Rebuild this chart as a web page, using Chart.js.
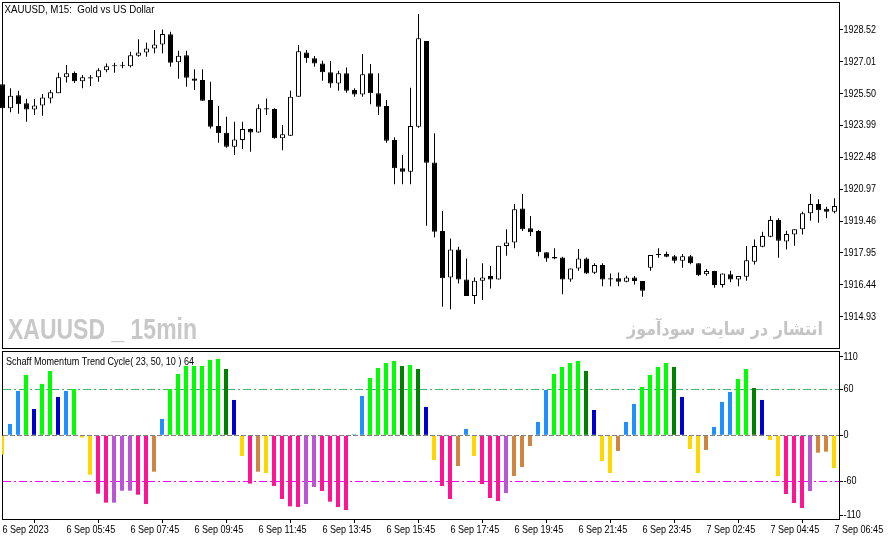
<!DOCTYPE html>
<html><head><meta charset="utf-8">
<script src="https://cdn.jsdelivr.net/npm/chart.js@4.4.0/dist/chart.umd.min.js"></script>
<style>
html,body{margin:0;padding:0;background:#fff;overflow:hidden;}
#wrap{position:relative;width:892px;height:541px;background:#fff;}
canvas{position:absolute;left:0;}
#c1{top:0;} #c2{top:349px;}
</style></head><body>
<div id="wrap"><canvas id="c1" width="892" height="349"></canvas><canvas id="c2" width="892" height="192"></canvas></div>
<script>
const FONT = '"Liberation Sans", Arial, sans-serif';

// ---- price panel (XAUUSD M15) ----
const openP  = [1925.94,1924.80,1925.42,1925.04,1924.75,1924.94,1925.27,1925.51,1926.27,1926.47,1926.08,1926.27,1926.27,1926.60,1926.84,1926.84,1926.80,1927.29,1927.45,1927.64,1927.83,1928.31,1926.98,1927.31,1926.22,1926.14,1925.19,1923.96,1923.64,1922.98,1923.30,1923.82,1923.66,1924.80,1924.77,1923.38,1923.50,1925.35,1927.45,1927.17,1926.93,1926.51,1925.98,1926.46,1925.67,1925.46,1926.46,1925.51,1924.91,1923.30,1921.96,1921.80,1923.93,1927.99,1922.24,1918.99,1916.79,1918.12,1916.70,1915.91,1916.63,1916.86,1916.70,1918.28,1918.45,1920.06,1919.12,1918.99,1917.98,1917.76,1917.74,1916.70,1917.22,1917.69,1917.01,1917.38,1916.75,1916.75,1916.59,1916.79,1916.62,1917.25,1917.85,1917.90,1917.80,1917.58,1917.80,1917.46,1916.94,1917.10,1916.43,1916.94,1916.70,1916.82,1917.53,1918.24,1918.72,1919.51,1918.49,1918.83,1919.07,1919.83,1920.27,1920.04,1919.90];
const highP  = [1926.05,1925.75,1925.63,1925.26,1925.24,1925.48,1925.67,1926.49,1926.85,1926.55,1926.38,1926.38,1926.70,1926.93,1926.96,1927.01,1927.48,1928.07,1927.91,1928.51,1928.54,1928.43,1927.53,1927.53,1926.65,1926.65,1926.06,1924.91,1924.40,1924.17,1924.17,1923.85,1925.00,1925.27,1924.80,1924.01,1925.63,1927.80,1927.56,1927.28,1927.05,1927.04,1926.58,1926.74,1925.75,1927.37,1926.90,1926.46,1925.19,1923.43,1922.59,1925.78,1929.27,1927.99,1923.62,1919.94,1918.64,1918.24,1917.69,1916.79,1917.46,1917.33,1918.29,1919.07,1920.27,1920.74,1919.70,1919.04,1917.98,1918.17,1917.77,1917.22,1918.14,1917.74,1917.46,1917.46,1916.98,1917.03,1916.87,1916.86,1916.62,1917.85,1918.17,1918.01,1917.85,1917.90,1917.85,1917.46,1917.19,1917.11,1916.98,1917.11,1916.86,1918.28,1918.59,1918.95,1919.70,1919.59,1919.00,1919.07,1919.90,1920.74,1920.50,1920.14,1920.54];
const lowP   = [1924.72,1924.61,1924.54,1924.17,1924.48,1924.45,1925.04,1925.51,1926.03,1926.00,1925.75,1925.86,1926.06,1926.51,1926.49,1926.70,1926.74,1927.24,1927.24,1927.41,1927.41,1926.77,1926.20,1925.82,1925.67,1925.16,1923.85,1923.17,1922.93,1922.59,1922.87,1922.74,1923.64,1924.48,1923.36,1922.82,1923.49,1925.35,1926.96,1926.77,1926.11,1925.78,1925.63,1925.54,1925.35,1925.35,1924.99,1924.48,1923.17,1921.20,1921.20,1921.20,1923.88,1919.24,1918.69,1915.40,1915.28,1916.51,1915.91,1915.53,1915.72,1916.27,1916.70,1917.82,1918.17,1918.99,1918.75,1917.80,1917.53,1917.65,1916.00,1916.59,1917.11,1916.95,1916.95,1916.38,1916.38,1916.38,1916.56,1916.46,1915.88,1917.11,1917.72,1917.75,1917.46,1917.25,1917.42,1916.86,1916.87,1916.30,1916.32,1916.56,1916.38,1916.63,1917.41,1918.22,1918.69,1917.72,1918.12,1918.29,1918.83,1919.48,1919.38,1919.59,1919.83];
const closeP = [1924.80,1925.40,1924.99,1924.75,1924.94,1925.32,1925.56,1926.27,1926.46,1926.08,1926.27,1926.22,1926.61,1926.79,1926.79,1926.79,1927.31,1927.45,1927.64,1927.83,1928.32,1926.96,1927.29,1926.25,1926.11,1925.16,1923.93,1923.62,1922.98,1923.33,1923.82,1923.66,1924.80,1924.75,1923.38,1923.57,1925.35,1927.51,1927.17,1926.93,1926.51,1925.98,1926.46,1925.63,1925.46,1926.42,1925.51,1924.88,1923.27,1921.96,1921.80,1923.96,1928.12,1922.22,1918.95,1916.75,1918.12,1916.70,1915.91,1916.63,1916.79,1916.70,1918.29,1918.45,1920.02,1919.07,1918.93,1917.98,1917.69,1917.69,1916.70,1917.22,1917.69,1916.98,1917.38,1916.70,1916.70,1916.59,1916.79,1916.62,1916.16,1917.85,1917.88,1917.77,1917.58,1917.80,1917.46,1916.90,1917.10,1916.43,1916.98,1916.70,1916.86,1917.61,1918.28,1918.75,1919.51,1918.53,1918.85,1919.07,1919.83,1920.27,1919.98,1919.90,1920.17];
const priceTicks = [1928.52,1927.01,1925.50,1923.99,1922.48,1920.97,1919.46,1917.95,1916.44,1914.93];

// ---- Schaff Momentum Trend Cycle panel ----
const histVals = [-25,14.8,57.8,78.7,34.3,67,83.9,50,57.8,60.4,-3,-51.3,-76.1,-87.8,-87.8,-72.2,-72.2,-77.4,-89.6,-47.4,21.3,60.4,80,90.4,90.4,90.4,98.3,99.6,86.5,46.1,-27,-63,-47.4,-49.1,-66.1,-83,-92.6,-93.5,-89.6,-67.4,-72.6,-86.5,-93.5,-97.4,1.3,51.3,74.8,87.8,94.3,97,90.4,91.7,86.5,37,-32.2,-66.1,-83,-40,8.3,-27,-63.5,-81.7,-85.7,-75.2,-53,-41.3,-13.9,17.4,59.1,80,89.1,94.3,97,83.9,33,-33.5,-49.1,-20.4,17.4,40.9,63,78.7,89.1,94.3,89.1,50,-17.8,-49.1,-19.1,10.9,43.5,56.5,73.5,86.5,61.7,46.1,-6.1,-53,-76.5,-88.3,-94.8,-72.6,-22.6,-21.3,-42.6];
const histColors = ['G','B','B','L','M','L','L','M','B','L','G','G','P','P','O','O','O','P','P','R','B','L','L','L','L','L','L','L','D','M','G','P','R','G','P','P','P','P','O','O','P','P','P','P','B','B','L','L','L','L','D','L','D','M','G','P','P','R','B','G','P','P','P','O','R','R','R','B','B','L','L','L','L','D','M','G','G','R','B','B','L','L','L','L','D','M','G','G','R','B','B','B','L','L','D','M','G','G','P','P','P','O','R','R','G'];
const PALETTE = {G:'#FFD700',B:'#1E90FF',L:'#00FF00',M:'#0000CD',P:'#FF1493',O:'#BA55D3',R:'#CD853F',D:'#008000'};
const histTickVals = [102.5, 60, 0, -60, -104];
const histTickLabels = ['110','60','0','-60','-110'];
const levels = [60, -60];
const levelColors = ['#3CB371', '#FF00FF'];

// ---- time axis ----
const xTickIdx = [0,8,16,24,32,40,48,56,64,72,80,88,96,104];
const xTickLabels = ['6 Sep 2023','6 Sep 05:45','6 Sep 07:45','6 Sep 09:45','6 Sep 11:45','6 Sep 13:45','6 Sep 15:45','6 Sep 17:45','6 Sep 19:45','6 Sep 21:45','6 Sep 23:45','7 Sep 02:45','7 Sep 04:45','7 Sep 06:45'];

const idx = openP.map((_, i) => i);
const X1 = [-0.0625, 104.5625];
const X2 = [0, 104.625];

function narrowText(ctx, text, x, y, maxW) {
  const w = ctx.measureText(text).width * 0.82;
  ctx.fillText(text, x, y, maxW || w);
}

const framePlugin = {
  id: 'frame',
  beforeDatasetsDraw(chart) {
    const {ctx, chartArea: a} = chart;
    ctx.save();
    ctx.strokeStyle = '#000'; ctx.lineWidth = 1;
    ctx.strokeRect(a.left + 0.5, a.top - 0.5, a.right - a.left, a.bottom - a.top + 1);
    ctx.restore();
  }
};

// draws axis labels at the library's tick positions (narrow MT5 style)
const tickLabelPlugin = {
  id: 'tickLabels',
  afterDraw(chart, args, opts) {
    const ctx = chart.ctx;
    ctx.save();
    ctx.font = '11px ' + FONT;
    ctx.fillStyle = '#000';
    const y = chart.scales.y;
    ctx.textAlign = 'left'; ctx.textBaseline = 'middle';
    y.ticks.forEach((t, i) => {
      narrowText(ctx, opts.yLabels[i], y.left + 4.5, y.getPixelForValue(t.value));
    });
    if (opts.xLabels) {
      const x = chart.scales.x;
      x.ticks.forEach((t, i) => {
        narrowText(ctx, opts.xLabels[i], Math.round(x.getPixelForValue(t.value)) + 0.5, x.top + 10.5);
      });
    }
    ctx.restore();
  }
};

const textPlugin1 = {
  id: 'texts1',
  afterDraw(chart) {
    const ctx = chart.ctx;
    ctx.save();
    ctx.textBaseline = 'alphabetic';
    ctx.fillStyle = '#c8c8c8';
    ctx.font = 'bold 29px ' + FONT;
    ctx.textAlign = 'left';
    ctx.fillText('XAUUSD _ 15min', 8, 339, 189);
    ctx.fillStyle = '#c4c4c4';
    ctx.font = 'bold 18px "DejaVu Sans", sans-serif';
    ctx.textAlign = 'right';
    ctx.fillText('انتشار در سایت سودآموز', 823, 335, 196);
    ctx.fillStyle = '#000';
    ctx.font = '11px ' + FONT;
    ctx.textAlign = 'left';
    ctx.fillText('XAUUSD, M15:  Gold vs US Dollar', 4.5, 13, 150);
    ctx.restore();
  }
};

function fixX(range) {
  return s => { s.min = range[0]; s.max = range[1]; s.ticks = xTickIdx.map(v => ({value: v})); };
}

new Chart(document.getElementById('c1'), {
  type: 'bar',
  data: {
    datasets: [
      { data: idx.map(i => ({x: i, y: [openP[i], closeP[i]]})),
        backgroundColor: idx.map(i => closeP[i] >= openP[i] ? '#ffffff' : '#000000'),
        borderColor: '#000', borderWidth: 1, borderSkipped: false,
        barThickness: 5, minBarLength: 1, inflateAmount: 0, grouped: false, order: 0, clip: false },
      { data: idx.map(i => ({x: i, y: [lowP[i], highP[i]]})),
        backgroundColor: '#000', borderWidth: 0,
        barThickness: 1, inflateAmount: 0, grouped: false, order: 1, clip: false }
    ]
  },
  options: {
    responsive: false, animation: false, devicePixelRatio: 1,
    layout: {padding: {left: 2, top: 3, right: 0, bottom: 1}},
    plugins: {legend: {display: false}, tooltip: {enabled: false},
              tickLabels: {yLabels: priceTicks.map(v => v.toFixed(2))}},
    scales: {
      x: {type: 'linear', display: false, offset: false, bounds: 'data', min: X1[0], max: X1[1],
          afterBuildTicks: fixX(X1)},
      y: {
        position: 'right', min: 1913.45, max: 1929.79, bounds: 'data',
        afterBuildTicks: s => { s.min = 1913.45; s.max = 1929.79; s.ticks = priceTicks.map(v => ({value: v})); },
        afterFit: s => { s.width = 53; s.paddingTop = 0; s.paddingBottom = 0; },
        grid: {drawOnChartArea: false, drawTicks: true, tickLength: 4, color: '#000'},
        border: {display: true, color: '#000'},
        ticks: {display: false}
      }
    }
  },
  plugins: [framePlugin, textPlugin1, tickLabelPlugin]
});

const levelPlugin = {
  id: 'levels',
  beforeDatasetsDraw(chart) {
    const {ctx, chartArea: a, scales: {y}} = chart;
    ctx.save();
    ctx.lineWidth = 1;
    levels.forEach((lv, k) => {
      const py = Math.round(y.getPixelForValue(lv)) + 0.5;
      ctx.strokeStyle = levelColors[k];
      ctx.setLineDash([8, 3, 2, 3]);
      ctx.beginPath(); ctx.moveTo(a.left + 1, py); ctx.lineTo(a.right, py); ctx.stroke();
    });
    ctx.restore();
  },
  afterDatasetsDraw(chart) {
    const {ctx, chartArea: a, scales: {y}} = chart;
    ctx.save();
    const py = Math.round(y.getPixelForValue(0)) + 0.5;
    ctx.strokeStyle = '#808080'; ctx.lineWidth = 1;
    ctx.setLineDash([5, 2]);
    ctx.beginPath(); ctx.moveTo(a.left + 1, py); ctx.lineTo(a.right, py); ctx.stroke();
    ctx.setLineDash([]);
    ctx.fillStyle = '#000';
    ctx.font = '11px ' + FONT;
    ctx.textBaseline = 'alphabetic'; ctx.textAlign = 'left';
    ctx.fillText('Schaff Momentum Trend Cycle( 23, 50, 10 ) 64', 6, 16, 188);
    ctx.restore();
  }
};

new Chart(document.getElementById('c2'), {
  type: 'bar',
  data: {
    datasets: [{
      data: idx.map(i => ({x: i, y: histVals[i]})),
      backgroundColor: histColors.map(k => PALETTE[k]),
      borderWidth: 0, barThickness: 4, inflateAmount: 0, grouped: false, clip: 0
    }]
  },
  options: {
    responsive: false, animation: false, devicePixelRatio: 1,
    layout: {padding: {left: 2, top: 3, right: 0, bottom: 0}},
    plugins: {legend: {display: false}, tooltip: {enabled: false},
              tickLabels: {yLabels: histTickLabels, xLabels: xTickLabels}},
    scales: {
      x: {
        type: 'linear', offset: false, bounds: 'data', min: X2[0], max: X2[1],
        afterBuildTicks: fixX(X2),
        afterFit: s => { s.height = 22; s.paddingLeft = 0; s.paddingRight = 0; },
        grid: {drawOnChartArea: false, drawTicks: true, tickLength: 4, color: '#000'},
        border: {display: true, color: '#000'},
        ticks: {display: false}
      },
      y: {
        position: 'right', min: -109.1, max: 108.6, bounds: 'data',
        afterBuildTicks: s => { s.min = -109.1; s.max = 108.6; s.ticks = histTickVals.map(v => ({value: v})); },
        afterFit: s => { s.width = 53; s.paddingTop = 0; s.paddingBottom = 0; },
        grid: {drawOnChartArea: false, drawTicks: true, tickLength: 4, color: '#000'},
        border: {display: true, color: '#000'},
        ticks: {display: false}
      }
    }
  },
  plugins: [framePlugin, levelPlugin, tickLabelPlugin]
});
</script>
</body></html>
